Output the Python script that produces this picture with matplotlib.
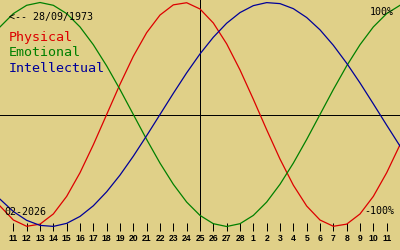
import numpy as np
import matplotlib
matplotlib.use('Agg')
import matplotlib.pyplot as plt

# days relative to 25 Feb 2026 (centre of the chart)
days = list(range(-15, 16))

physical = [-0.817, -0.942, -0.998, -0.979, -0.888, -0.731, -0.520, -0.270,
            0.000, 0.270, 0.520, 0.731, 0.888, 0.979, 0.998, 0.942, 0.817,
            0.631, 0.398, 0.136, -0.136, -0.398, -0.631, -0.817, -0.942,
            -0.998, -0.979, -0.888, -0.731, -0.520, -0.270]
emotional = [0.782, 0.901, 0.975, 1.000, 0.975, 0.901, 0.782, 0.623, 0.434,
             0.223, 0.000, -0.223, -0.434, -0.623, -0.782, -0.901, -0.975,
             -1.000, -0.975, -0.901, -0.782, -0.623, -0.434, -0.223, 0.000,
             0.223, 0.434, 0.623, 0.782, 0.901, 0.975]
intellectual = [-0.756, -0.866, -0.945, -0.990, -0.999, -0.972, -0.910,
                -0.815, -0.690, -0.541, -0.372, -0.189, 0.000, 0.189, 0.372,
                0.541, 0.690, 0.815, 0.910, 0.972, 0.999, 0.990, 0.945, 0.866,
                0.756, 0.618, 0.458, 0.282, 0.095, -0.095, -0.282]

tick_days = list(range(-14, 15))
tick_labels = ['11', '12', '13', '14', '15', '16', '17', '18', '19', '20',
               '21', '22', '23', '24', '25', '26', '27', '28', '1', '2', '3',
               '4', '5', '6', '7', '8', '9', '10', '11']

bg = '#E0D088'
red = '#DD0000'
green = '#008000'
blue = '#000099'

fig = plt.figure(figsize=(4, 2.5), dpi=100, facecolor=bg)
ax = fig.add_axes([0, 19/250, 1, 231/250])
ax.set_facecolor(bg)
for s in ax.spines.values():
    s.set_visible(False)

ax.axhline(0, color='black', lw=0.72, antialiased=False)
ax.axvline(0, color='black', lw=0.72, antialiased=False)

ax.plot(days, physical, color=red, lw=0.9)
ax.plot(days, emotional, color=green, lw=0.9)
ax.plot(days, intellectual, color=blue, lw=0.9)

ax.set_xlim(-15, 15)
ax.set_ylim(-(231 - 114.5)/112, 114.5/112)
ax.set_yticks([])
ax.set_xticks(tick_days)
ax.set_xticklabels(tick_labels, fontfamily='Liberation Sans', fontweight='bold', fontsize=6.2)
ax.tick_params(axis='x', direction='in', length=5.5, width=0.72, pad=2.5, colors='black')

mono = 'DejaVu Sans Mono'
def ftext(x, y, s, **kw):
    fig.text(x/400, 1 - y/250, s, va='center', family=mono, **kw)

ftext(9, 17, '<-- 28/09/1973', fontsize=7.2)
ftext(9, 37.5, 'Physical', fontsize=9.6, color=red)
ftext(9, 53, 'Emotional', fontsize=9.6, color=green)
ftext(9, 68.5, 'Intellectual', fontsize=9.6, color=blue)
ftext(394, 12, '100%', fontsize=7.2, ha='right')
ftext(394, 211, '-100%', fontsize=7.2, ha='right')
ftext(4, 212, '02-2026', fontsize=7.2)

plt.savefig('out.png', dpi=100, facecolor=bg)
